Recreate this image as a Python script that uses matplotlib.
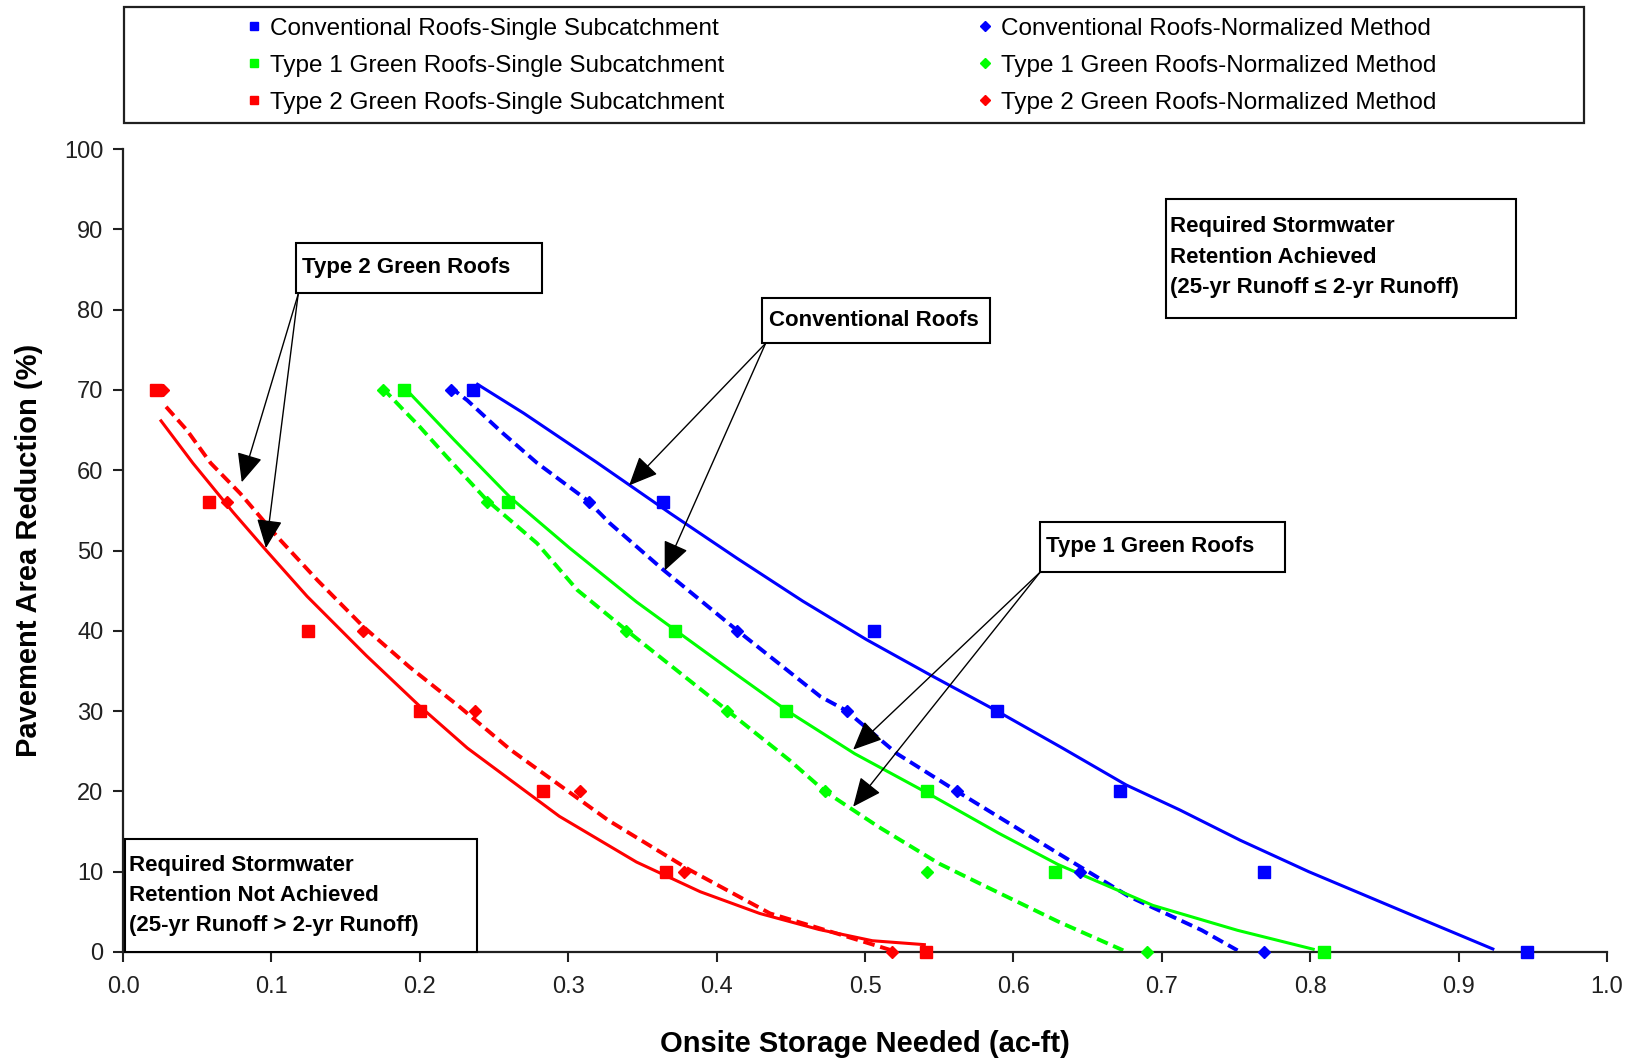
import matplotlib.pyplot as plt
from matplotlib.patches import Rectangle
from matplotlib.lines import Line2D

plt.rcParams['font.family'] = ['Liberation Sans', 'DejaVu Sans']

# storage needed (ac-ft) vs pavement area reduction (%)
levels = [70, 56, 40, 30, 20, 10, 0]

conv_ss_x = [0.236, 0.364, 0.506, 0.589, 0.672, 0.769, 0.946]
conv_nm_x = [0.221, 0.314, 0.4135, 0.488, 0.562, 0.645, 0.769]
t1_ss_x = [0.189, 0.2595, 0.372, 0.447, 0.542, 0.628, 0.809]
t1_nm_x = [0.175, 0.245, 0.339, 0.407, 0.473, 0.542, 0.690]
t2_ss_x = [0.022, 0.058, 0.1245, 0.200, 0.283, 0.366, 0.541]
t2_nm_x = [0.027, 0.070, 0.162, 0.237, 0.308, 0.378, 0.518]

# fitted curves, single subcatchment (solid)
conv_fit_x = [0.238, 0.270, 0.319, 0.369, 0.414, 0.458, 0.501, 0.542, 0.589,
              0.633, 0.676, 0.712, 0.753, 0.799, 0.871, 0.924]
conv_fit_y = [70.8, 67.1, 61.0, 54.6, 49.0, 43.7, 38.9, 34.7, 30.0,
              25.4, 20.8, 17.7, 13.9, 10.0, 4.4, 0.3]
t1_fit_x = [0.189, 0.223, 0.261, 0.301, 0.346, 0.372, 0.410, 0.447, 0.493,
            0.542, 0.590, 0.630, 0.694, 0.751, 0.803]
t1_fit_y = [70.4, 63.8, 56.6, 50.3, 43.6, 40.1, 35.0, 30.1, 24.7,
            19.8, 14.8, 10.9, 5.8, 2.7, 0.3]
t2_fit_x = [0.025, 0.047, 0.074, 0.097, 0.124, 0.164, 0.200, 0.232, 0.294,
            0.346, 0.389, 0.429, 0.469, 0.505, 0.541]
t2_fit_y = [66.3, 60.9, 54.8, 49.9, 44.3, 36.9, 30.6, 25.4, 16.9,
            11.2, 7.5, 4.8, 2.8, 1.4, 0.9]

# normalized method curves (dashed)
conv_nmc_x = [0.220, 0.232, 0.256, 0.279, 0.3125, 0.328, 0.364, 0.4135, 0.470,
              0.487, 0.5215, 0.562, 0.630, 0.678, 0.727, 0.751]
conv_nmc_y = [70.4, 68.7, 64.6, 60.9, 56.3, 53.4, 47.6, 40.1, 31.8,
              30.1, 24.7, 20.0, 12.3, 6.9, 2.7, 0.2]
t1_nmc_x = [0.175, 0.189, 0.200, 0.218, 0.245, 0.279, 0.306, 0.339, 0.373,
            0.407, 0.449, 0.473, 0.509, 0.550, 0.582, 0.630, 0.674]
t1_nmc_y = [70.2, 67.5, 65.4, 61.7, 56.3, 50.9, 45.1, 40.1, 35.1,
            30.1, 23.9, 20.0, 15.6, 11.0, 8.1, 3.8, 0.2]
t2_nmc_x = [0.029, 0.043, 0.059, 0.079, 0.104, 0.131, 0.162, 0.193, 0.227,
            0.261, 0.327, 0.382, 0.436, 0.481, 0.518]
t2_nmc_y = [67.9, 65.0, 60.9, 57.1, 51.7, 46.3, 40.5, 35.5, 30.5,
            25.2, 16.4, 10.2, 4.8, 2.3, 0.2]

blue, green, red = '#0000ff', '#00ff00', '#ff0000'

fig = plt.figure(figsize=(16.36, 10.6), dpi=100)
ax = fig.add_axes([0.0752, 0.1019, 0.9071, 0.7575])

dash = (3, 1.5)
for fx, fy, nx, ny, c in [(conv_fit_x, conv_fit_y, conv_nmc_x, conv_nmc_y, blue),
                          (t1_fit_x, t1_fit_y, t1_nmc_x, t1_nmc_y, green),
                          (t2_fit_x, t2_fit_y, t2_nmc_x, t2_nmc_y, red)]:
    ax.plot(fx, fy, color=c, lw=2.2, solid_capstyle='butt', solid_joinstyle='round')
    ax.plot(nx, ny, color=c, lw=2.8, dashes=dash)

for sx, nx, c in [(conv_ss_x, conv_nm_x, blue), (t1_ss_x, t1_nm_x, green),
                  (t2_ss_x, t2_nm_x, red)]:
    ax.plot(sx, levels, 's', color=c, ms=8, clip_on=False, zorder=4)
    ax.plot(nx, levels, 'D', color=c, ms=6, clip_on=False, zorder=4)

ax.set_xlim(0, 1.0)
ax.set_ylim(0, 100)
ax.set_xticks([i / 10 for i in range(11)])
ax.set_yticks(range(0, 101, 10))
ax.xaxis.set_major_formatter(lambda v, p: f'{v:.1f}')
for s in ['top', 'right']:
    ax.spines[s].set_visible(False)
for s in ['left', 'bottom']:
    ax.spines[s].set_linewidth(1.6)
    ax.spines[s].set_color('#202020')
ax.tick_params(length=7, width=1.5, labelsize=17, colors='#202020', pad=7)
ax.tick_params(axis='x', pad=10)

ax.set_xlabel('Onsite Storage Needed (ac-ft)', fontsize=21, fontweight='bold', labelpad=23)
ax.set_ylabel('Pavement Area Reduction (%)', fontsize=21, fontweight='bold', labelpad=15)


def label_box(x0, y0, x1, y1, lines, tx, ty):
    ax.add_patch(Rectangle((x0, y0), x1 - x0, y1 - y0, fill=True, fc='white',
                           ec='black', lw=1.5, clip_on=False, zorder=5))
    for t, yy in zip(lines, ty):
        ax.text(tx, yy, t, fontsize=16, fontweight='bold', ha='left', va='center',
                zorder=6)


def arrow(start, tip):
    ax.annotate('', xy=tip, xytext=start,
                arrowprops=dict(arrowstyle='-|>,head_length=0.9,head_width=0.4',
                                color='black', lw=1.0, shrinkA=0, shrinkB=0,
                                mutation_scale=20), zorder=6)


label_box(0.1167, 82.05, 0.282, 88.3, ['Type 2 Green Roofs'], 0.1203, [85.2])
arrow((0.118, 81.9), (0.080, 58.5))
arrow((0.118, 81.9), (0.0963, 50.3))

label_box(0.4304, 75.8, 0.5844, 81.5, ['Conventional Roofs'], 0.4353, [78.7])
arrow((0.433, 75.8), (0.341, 58.1))
arrow((0.433, 75.8), (0.365, 47.5))

label_box(0.618, 47.3, 0.7827, 53.6, ['Type 1 Green Roofs'], 0.6217, [50.45])
arrow((0.618, 47.3), (0.492, 25.2))
arrow((0.618, 47.3), (0.492, 18.1))

label_box(0.7025, 78.9, 0.9388, 93.8,
          ['Required Stormwater', 'Retention Achieved',
           '(25-yr Runoff \u2264 2-yr Runoff)'],
          0.7053, [90.4, 86.5, 82.7])

label_box(0.0014, 0.0, 0.2384, 14.04,
          ['Required Stormwater', 'Retention Not Achieved',
           '(25-yr Runoff > 2-yr Runoff)'],
          0.0042, [10.8, 7.0, 3.25])

# legend frame and two columns of entries
fig.patches.append(Rectangle((0.0758, 0.884), 0.8924, 0.1094, transform=fig.transFigure,
                             fill=False, ec='#202020', lw=1.6))
names = ['Conventional Roofs', 'Type 1 Green Roofs', 'Type 2 Green Roofs']
cols = [blue, green, red]
h_ss = [Line2D([], [], ls='none', marker='s', color=c, ms=6) for c in cols]
h_nm = [Line2D([], [], ls='none', marker='D', color=c, ms=5) for c in cols]
common = dict(frameon=False, loc='upper left', fontsize=17.5, borderpad=0,
              handlelength=0.6, handletextpad=0.35, labelspacing=0.62,
              borderaxespad=0)
fig.legend(h_ss, [n + '-Single Subcatchment' for n in names],
           bbox_to_anchor=(0.151, 0.9835), **common)
fig.legend(h_nm, [n + '-Normalized Method' for n in names],
           bbox_to_anchor=(0.5975, 0.9835), **common)

fig.savefig('out.png', dpi=100)
